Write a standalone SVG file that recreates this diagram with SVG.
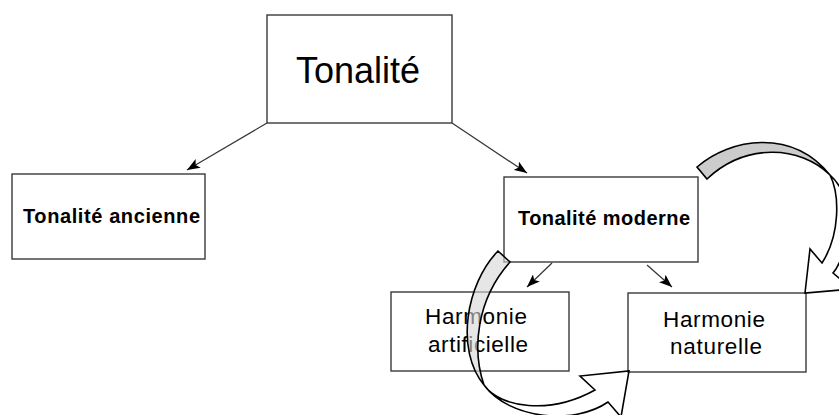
<svg xmlns="http://www.w3.org/2000/svg" width="839" height="415" viewBox="0 0 839 415">
<style>
.box{fill:#ffffff;stroke:#3a3a3a;stroke-width:1.4}
.lbl{font-family:"Liberation Sans",Arial,sans-serif;fill:#000;text-anchor:middle}
.b{font-weight:bold;font-size:20px}
.n{font-size:22.5px}
.conn{stroke:#333;stroke-width:1.2;fill:none;marker-end:url(#ah)}
.ca{stroke:#000;stroke-width:1.6;stroke-linejoin:miter}
</style>
<defs>
<marker id="ah" markerUnits="userSpaceOnUse" markerWidth="14" markerHeight="10" refX="13" refY="5" orient="auto">
<path d="M0,0 L13,5 L0,10 L3,5 Z" fill="#000"/>
</marker>
</defs>
<g id="connectors">
<line class="conn" x1="267" y1="123" x2="187" y2="170"/>
<line class="conn" x1="452" y1="123" x2="527" y2="173"/>
<line class="conn" x1="552" y1="263" x2="527" y2="287"/>
<line class="conn" x1="647" y1="265" x2="672" y2="287"/>
</g>
<g id="n-tonalite">
<rect class="box" x="267" y="15" width="185" height="108"/>
<text class="lbl" x="358" y="83" font-size="36">Tonalité</text>
</g>
<g id="n-ancienne">
<rect class="box" x="12" y="174" width="193" height="85"/>
<text class="lbl b" x="111.5" y="223" textLength="177" lengthAdjust="spacing">Tonalité ancienne</text>
</g>
<g id="n-moderne">
<rect class="box" x="504" y="177" width="194" height="85"/>
<text class="lbl b" x="604" y="225" textLength="172" lengthAdjust="spacing">Tonalité moderne</text>
</g>
<g id="n-artificielle">
<rect class="box" x="391" y="292" width="178" height="79"/>
<text class="lbl n" x="476" y="324" textLength="102" lengthAdjust="spacing">Harmonie</text>
<text class="lbl n" x="478" y="352" textLength="100" lengthAdjust="spacing">artificielle</text>
</g>
<g id="n-naturelle">
<rect class="box" x="628" y="293" width="178" height="79"/>
<text class="lbl n" x="714" y="327" textLength="102" lengthAdjust="spacing">Harmonie</text>
<text class="lbl n" x="716" y="354" textLength="92" lengthAdjust="spacing">naturelle</text>
</g>
<g id="curved-arrow-top">
<path class="ca" fill="#cccccc" d="M697,167 C730,138 792,128 830,175 C800,145 745,143 707,179 Z"/>
<path class="ca" fill="#ffffff" d="M830,175 C840,195 840,235 822,263 L810,249 L805,293 L852,289 L833,273 C848,255 858,200 830,175 Z"/>
</g>
<g id="curved-arrow-bottom">
<path class="ca" fill="#d6d6d6" fill-opacity="0.6" d="M498,251 C466,284 455,350 484,385 C472,350 476,300 510,262 Z"/>
<path class="ca" fill="none" d="M484,385 C500,408 550,415 595,390 L580,376 L629,371 L621,417 L608,402 C575,425 510,420 484,385 Z"/>
</g>
</svg>
